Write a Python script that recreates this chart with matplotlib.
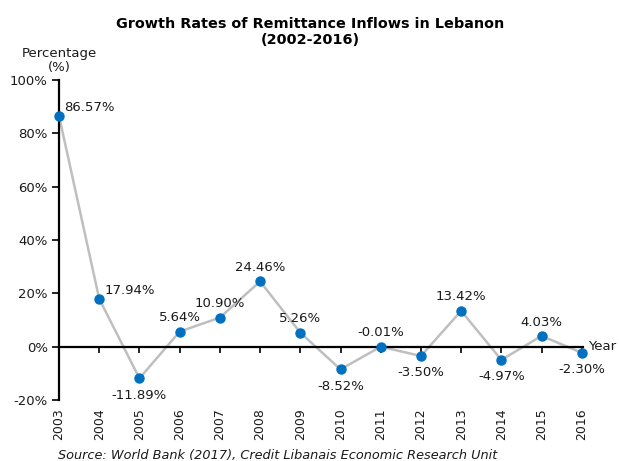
import matplotlib.pyplot as plt
import matplotlib.transforms as mtransforms

years = [2003, 2004, 2005, 2006, 2007, 2008, 2009, 2010, 2011, 2012, 2013, 2014, 2015, 2016]
growth = [86.57, 17.94, -11.89, 5.64, 10.90, 24.46, 5.26, -8.52, -0.01, -3.50, 13.42, -4.97, 4.03, -2.30]
# where each data label sits relative to its point
label_pos = ['right', 'right', 'below', 'above', 'above', 'above', 'above',
             'below', 'above', 'below', 'above', 'below', 'above', 'below']
yticks = [-20, 0, 20, 40, 60, 80, 100]

plt.rcParams['font.family'] = ['DejaVu Sans']

fig = plt.figure(figsize=(6.19, 4.61), dpi=100)
ax = fig.add_axes([59 / 619, 1 - 400 / 461, (583 - 59) / 619, 320 / 461])

ax.plot(years, growth, color='#BFBFBF', lw=1.8, zorder=2)
ax.plot(years, growth, 'o', color='#0070C0', ms=6.5, zorder=3, clip_on=False)

for x, v, p in zip(years, growth, label_pos):
    txt = f'{v:.2f}%'
    if p == 'right':
        ax.annotate(txt, (x, v), xytext=(4, 6), textcoords='offset points',
                    ha='left', va='center', fontsize=9.5, color='#1a1a1a')
    elif p == 'above':
        ax.annotate(txt, (x, v), xytext=(0, 10), textcoords='offset points',
                    ha='center', va='center', fontsize=9.5, color='#1a1a1a')
    else:
        ax.annotate(txt, (x, v), xytext=(0, -12), textcoords='offset points',
                    ha='center', va='center', fontsize=9.5, color='#1a1a1a')

ax.set_xlim(2003, 2016.03)
ax.set_ylim(-20, 100)
ax.set_yticks(yticks)
ax.set_yticklabels([f'{t}%' for t in yticks], fontsize=9.5, color='#1a1a1a')

ax.spines['top'].set_visible(False)
ax.spines['right'].set_visible(False)
ax.spines['bottom'].set_position(('data', 0))
ax.spines['bottom'].set_linewidth(1.6)
ax.spines['left'].set_linewidth(1.6)
ax.tick_params(axis='y', direction='out', length=5, width=1.2, pad=3)
ax.set_xticks(years)
ax.tick_params(axis='x', direction='out', length=4, width=1.2, labelbottom=False)

trans = mtransforms.blended_transform_factory(ax.transData, ax.transAxes)
for x in years:
    ax.text(x, -0.025, str(x), transform=trans, rotation=90, ha='center', va='top',
            fontsize=9, color='#1a1a1a')

ax.text(1.01, 20 / 120, 'Year', transform=ax.transAxes, ha='left', va='center',
        fontsize=9.5, color='#1a1a1a')

fig.text(59 / 619, 1 - 60 / 461, 'Percentage\n(%)', ha='center', va='center',
         fontsize=9.5, color='#1a1a1a', linespacing=1.1)

fig.text(310 / 619, 1 - 32 / 461, 'Growth Rates of Remittance Inflows in Lebanon\n(2002-2016)',
         ha='center', va='center', fontsize=10.4, fontweight='bold', color='black',
         linespacing=1.2)

fig.text(278 / 619, 1 - 455 / 461, 'Source: World Bank (2017), Credit Libanais Economic Research Unit',
         ha='center', va='center', fontsize=9.3, style='italic', color='#1a1a1a')

fig.savefig('out.png', dpi=100)
